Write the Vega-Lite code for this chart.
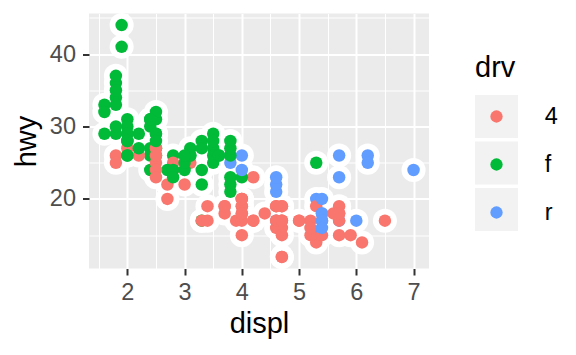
{
  "$schema": "https://vega.github.io/schema/vega-lite/v6.json",
  "width": 340,
  "height": 255,
  "autosize": "none",
  "padding": {"left": 89, "top": 13.5, "right": 147, "bottom": 86.5},
  "background": "white",
  "config": {
    "view": {"fill": "#EBEBEB", "stroke": null},
    "font": "Liberation Sans"
  },
  "data": {
    "values": [
      {"displ": 1.8, "hwy": 29, "drv": "f"}, {"displ": 2.0, "hwy": 31, "drv": "f"}, {"displ": 2.0, "hwy": 30, "drv": "f"}, {"displ": 2.8, "hwy": 26, "drv": "f"}, {"displ": 3.1, "hwy": 27, "drv": "f"},
      {"displ": 1.8, "hwy": 26, "drv": "4"}, {"displ": 1.8, "hwy": 25, "drv": "4"}, {"displ": 2.0, "hwy": 28, "drv": "4"}, {"displ": 2.0, "hwy": 27, "drv": "4"}, {"displ": 2.8, "hwy": 25, "drv": "4"}, {"displ": 3.1, "hwy": 25, "drv": "4"}, {"displ": 2.8, "hwy": 24, "drv": "4"}, {"displ": 4.2, "hwy": 23, "drv": "4"},
      {"displ": 5.3, "hwy": 20, "drv": "r"}, {"displ": 5.3, "hwy": 15, "drv": "r"}, {"displ": 5.7, "hwy": 17, "drv": "r"}, {"displ": 6.0, "hwy": 17, "drv": "r"}, {"displ": 5.7, "hwy": 26, "drv": "r"}, {"displ": 5.7, "hwy": 23, "drv": "r"}, {"displ": 6.2, "hwy": 26, "drv": "r"}, {"displ": 6.2, "hwy": 25, "drv": "r"}, {"displ": 7.0, "hwy": 24, "drv": "r"},
      {"displ": 5.3, "hwy": 19, "drv": "4"}, {"displ": 5.3, "hwy": 14, "drv": "4"}, {"displ": 5.7, "hwy": 15, "drv": "4"}, {"displ": 6.5, "hwy": 17, "drv": "4"},
      {"displ": 2.4, "hwy": 27, "drv": "f"}, {"displ": 2.4, "hwy": 30, "drv": "f"}, {"displ": 3.1, "hwy": 26, "drv": "f"}, {"displ": 3.5, "hwy": 29, "drv": "f"}, {"displ": 3.6, "hwy": 26, "drv": "f"},
      {"displ": 2.4, "hwy": 24, "drv": "f"}, {"displ": 3.0, "hwy": 24, "drv": "f"}, {"displ": 3.3, "hwy": 22, "drv": "f"}, {"displ": 3.3, "hwy": 24, "drv": "f"}, {"displ": 3.3, "hwy": 17, "drv": "f"}, {"displ": 3.8, "hwy": 22, "drv": "f"}, {"displ": 3.8, "hwy": 21, "drv": "f"}, {"displ": 3.8, "hwy": 23, "drv": "f"}, {"displ": 4.0, "hwy": 23, "drv": "f"},
      {"displ": 3.7, "hwy": 19, "drv": "4"}, {"displ": 3.7, "hwy": 18, "drv": "4"}, {"displ": 3.9, "hwy": 17, "drv": "4"}, {"displ": 4.7, "hwy": 19, "drv": "4"}, {"displ": 4.7, "hwy": 12, "drv": "4"}, {"displ": 5.2, "hwy": 17, "drv": "4"}, {"displ": 5.2, "hwy": 15, "drv": "4"}, {"displ": 4.7, "hwy": 17, "drv": "4"}, {"displ": 5.2, "hwy": 16, "drv": "4"}, {"displ": 5.7, "hwy": 18, "drv": "4"}, {"displ": 5.9, "hwy": 15, "drv": "4"}, {"displ": 4.7, "hwy": 16, "drv": "4"}, {"displ": 5.7, "hwy": 17, "drv": "4"},
      {"displ": 4.6, "hwy": 17, "drv": "r"}, {"displ": 5.4, "hwy": 17, "drv": "r"}, {"displ": 5.4, "hwy": 18, "drv": "r"},
      {"displ": 4.0, "hwy": 17, "drv": "4"}, {"displ": 4.0, "hwy": 19, "drv": "4"}, {"displ": 4.6, "hwy": 19, "drv": "4"}, {"displ": 5.0, "hwy": 17, "drv": "4"}, {"displ": 4.2, "hwy": 17, "drv": "4"}, {"displ": 4.6, "hwy": 16, "drv": "4"}, {"displ": 4.6, "hwy": 17, "drv": "4"}, {"displ": 5.4, "hwy": 15, "drv": "4"}, {"displ": 5.4, "hwy": 17, "drv": "4"},
      {"displ": 3.8, "hwy": 26, "drv": "r"}, {"displ": 3.8, "hwy": 25, "drv": "r"}, {"displ": 4.0, "hwy": 26, "drv": "r"}, {"displ": 4.0, "hwy": 24, "drv": "r"}, {"displ": 4.6, "hwy": 21, "drv": "r"}, {"displ": 4.6, "hwy": 22, "drv": "r"}, {"displ": 4.6, "hwy": 23, "drv": "r"}, {"displ": 5.4, "hwy": 20, "drv": "r"},
      {"displ": 1.6, "hwy": 33, "drv": "f"}, {"displ": 1.6, "hwy": 32, "drv": "f"}, {"displ": 1.6, "hwy": 29, "drv": "f"}, {"displ": 1.8, "hwy": 34, "drv": "f"}, {"displ": 1.8, "hwy": 36, "drv": "f"}, {"displ": 2.0, "hwy": 29, "drv": "f"},
      {"displ": 2.4, "hwy": 26, "drv": "f"}, {"displ": 2.4, "hwy": 31, "drv": "f"}, {"displ": 2.5, "hwy": 26, "drv": "f"}, {"displ": 3.3, "hwy": 28, "drv": "f"}, {"displ": 2.0, "hwy": 26, "drv": "f"}, {"displ": 2.0, "hwy": 28, "drv": "f"}, {"displ": 2.7, "hwy": 24, "drv": "f"},
      {"displ": 3.0, "hwy": 22, "drv": "4"}, {"displ": 3.7, "hwy": 19, "drv": "4"}, {"displ": 4.0, "hwy": 20, "drv": "4"}, {"displ": 4.7, "hwy": 17, "drv": "4"}, {"displ": 4.7, "hwy": 12, "drv": "4"}, {"displ": 4.7, "hwy": 19, "drv": "4"}, {"displ": 5.7, "hwy": 19, "drv": "4"}, {"displ": 6.1, "hwy": 14, "drv": "4"},
      {"displ": 4.0, "hwy": 15, "drv": "4"}, {"displ": 4.2, "hwy": 17, "drv": "4"}, {"displ": 4.4, "hwy": 18, "drv": "4"}, {"displ": 4.6, "hwy": 17, "drv": "4"},
      {"displ": 5.4, "hwy": 18, "drv": "r"}, {"displ": 5.4, "hwy": 17, "drv": "r"}, {"displ": 5.4, "hwy": 16, "drv": "r"},
      {"displ": 4.0, "hwy": 19, "drv": "4"}, {"displ": 4.0, "hwy": 18, "drv": "4"}, {"displ": 4.6, "hwy": 19, "drv": "4"}, {"displ": 5.0, "hwy": 17, "drv": "4"},
      {"displ": 2.5, "hwy": 29, "drv": "f"}, {"displ": 2.5, "hwy": 27, "drv": "f"}, {"displ": 2.5, "hwy": 31, "drv": "f"}, {"displ": 2.5, "hwy": 32, "drv": "f"}, {"displ": 3.5, "hwy": 27, "drv": "f"}, {"displ": 3.5, "hwy": 26, "drv": "f"}, {"displ": 3.0, "hwy": 25, "drv": "f"}, {"displ": 3.5, "hwy": 25, "drv": "f"},
      {"displ": 3.3, "hwy": 17, "drv": "4"}, {"displ": 4.0, "hwy": 20, "drv": "4"}, {"displ": 5.6, "hwy": 18, "drv": "4"},
      {"displ": 3.1, "hwy": 26, "drv": "f"}, {"displ": 3.8, "hwy": 26, "drv": "f"}, {"displ": 3.8, "hwy": 27, "drv": "f"}, {"displ": 3.8, "hwy": 28, "drv": "f"}, {"displ": 5.3, "hwy": 25, "drv": "f"},
      {"displ": 2.5, "hwy": 25, "drv": "4"}, {"displ": 2.5, "hwy": 24, "drv": "4"}, {"displ": 2.5, "hwy": 27, "drv": "4"}, {"displ": 2.5, "hwy": 26, "drv": "4"}, {"displ": 2.5, "hwy": 23, "drv": "4"}, {"displ": 2.2, "hwy": 26, "drv": "4"},
      {"displ": 2.7, "hwy": 20, "drv": "4"}, {"displ": 3.4, "hwy": 19, "drv": "4"}, {"displ": 3.4, "hwy": 17, "drv": "4"}, {"displ": 4.0, "hwy": 20, "drv": "4"}, {"displ": 4.7, "hwy": 17, "drv": "4"},
      {"displ": 2.2, "hwy": 29, "drv": "f"}, {"displ": 2.2, "hwy": 27, "drv": "f"}, {"displ": 2.4, "hwy": 31, "drv": "f"}, {"displ": 3.0, "hwy": 26, "drv": "f"}, {"displ": 3.5, "hwy": 28, "drv": "f"}, {"displ": 3.3, "hwy": 27, "drv": "f"},
      {"displ": 1.8, "hwy": 30, "drv": "f"}, {"displ": 1.8, "hwy": 33, "drv": "f"}, {"displ": 1.8, "hwy": 35, "drv": "f"}, {"displ": 1.8, "hwy": 37, "drv": "f"},
      {"displ": 4.7, "hwy": 15, "drv": "4"}, {"displ": 5.7, "hwy": 18, "drv": "4"}, {"displ": 2.7, "hwy": 22, "drv": "4"}, {"displ": 4.0, "hwy": 18, "drv": "4"},
      {"displ": 2.0, "hwy": 29, "drv": "f"}, {"displ": 2.0, "hwy": 26, "drv": "f"}, {"displ": 2.8, "hwy": 24, "drv": "f"}, {"displ": 1.9, "hwy": 44, "drv": "f"}, {"displ": 2.5, "hwy": 29, "drv": "f"}, {"displ": 2.8, "hwy": 23, "drv": "f"}, {"displ": 1.9, "hwy": 41, "drv": "f"}, {"displ": 2.5, "hwy": 28, "drv": "f"}, {"displ": 2.0, "hwy": 28, "drv": "f"}, {"displ": 3.6, "hwy": 26, "drv": "f"}
    ]
  },
  "encoding": {
    "x": {
      "field": "displ", "type": "quantitative",
      "scale": {"domain": [1.33, 7.27], "nice": false, "zero": false},
      "axis": {
        "title": "displ",
        "values": [1.5, 2, 2.5, 3, 3.5, 4, 4.5, 5, 5.5, 6, 6.5, 7],
        "labelExpr": "datum.value % 1 === 0 ? format(datum.value, 'd') : ''",
        "domain": false,
        "gridColor": "white",
        "gridWidth": {"condition": {"test": "datum.value % 1 === 0", "value": 2}, "value": 1},
        "tickOpacity": {"condition": {"test": "datum.value % 1 === 0", "value": 1}, "value": 0},
        "tickColor": "#333333", "tickWidth": 2, "tickSize": 6.5,
        "labelColor": "#4D4D4D", "labelFontSize": 23.5, "labelFont": "Liberation Sans", "labelPadding": 5,
        "titleFont": "Liberation Sans", "titleFontSize": 29, "titleFontWeight": "normal", "titleColor": "black", "titlePadding": 6
      }
    },
    "y": {
      "field": "hwy", "type": "quantitative",
      "scale": {"domain": [10.4, 45.6], "nice": false, "zero": false},
      "axis": {
        "title": "hwy",
        "values": [15, 20, 25, 30, 35, 40, 45],
        "labelExpr": "datum.value % 10 === 0 ? format(datum.value, 'd') : ''",
        "domain": false,
        "gridColor": "white",
        "gridWidth": {"condition": {"test": "datum.value % 10 === 0", "value": 2}, "value": 1},
        "tickOpacity": {"condition": {"test": "datum.value % 10 === 0", "value": 1}, "value": 0},
        "tickColor": "#333333", "tickWidth": 2, "tickSize": 6.5,
        "labelColor": "#4D4D4D", "labelFontSize": 23.5, "labelFont": "Liberation Sans", "labelPadding": 7,
        "titleFont": "Liberation Sans", "titleFontSize": 29, "titleFontWeight": "normal", "titleColor": "black", "titlePadding": 8
      }
    }
  },
  "layer": [
    {
      "transform": [{"filter": "false"}],
      "mark": {"type": "point", "filled": true, "color": "#F2F2F2", "opacity": 1},
      "encoding": {
        "shape": {
          "field": "drv", "type": "nominal",
          "scale": {"domain": ["4", "f", "r"], "range": ["square", "square", "square"]},
          "legend": {
            "orient": "none", "legendX": 386, "legendY": 81.5, "title": null,
            "symbolSize": 1849, "symbolStrokeWidth": 0, "symbolFillColor": "#F2F2F2",
            "labelExpr": "''", "labelFontSize": 11, "rowPadding": 3.5, "padding": 0, "zindex": 0
          }
        }
      }
    },
    {
      "mark": {"type": "point", "filled": true, "color": "white", "opacity": 1, "size": 580},
      "encoding": {}
    },
    {
      "mark": {"type": "point", "filled": true, "opacity": 1, "size": 156},
      "encoding": {
        "color": {
          "field": "drv", "type": "nominal",
          "scale": {"range": ["#F8766D", "#00BA38", "#619CFF"]},
          "legend": {
            "orient": "none", "legendX": 386, "legendY": 40.5, "title": "drv",
            "titleFont": "Liberation Sans", "titleFontSize": 29, "titleFontWeight": "normal", "titleColor": "black", "titlePadding": 21.75,
            "symbolSize": 151, "symbolType": "circle", "symbolOffset": 9.75,
            "labelFont": "Liberation Sans", "labelFontSize": 23.5, "labelColor": "black", "labelOffset": 36.5, "rowPadding": 23, "padding": 0, "zindex": 1
          }
        }
      }
    }
  ]
}
